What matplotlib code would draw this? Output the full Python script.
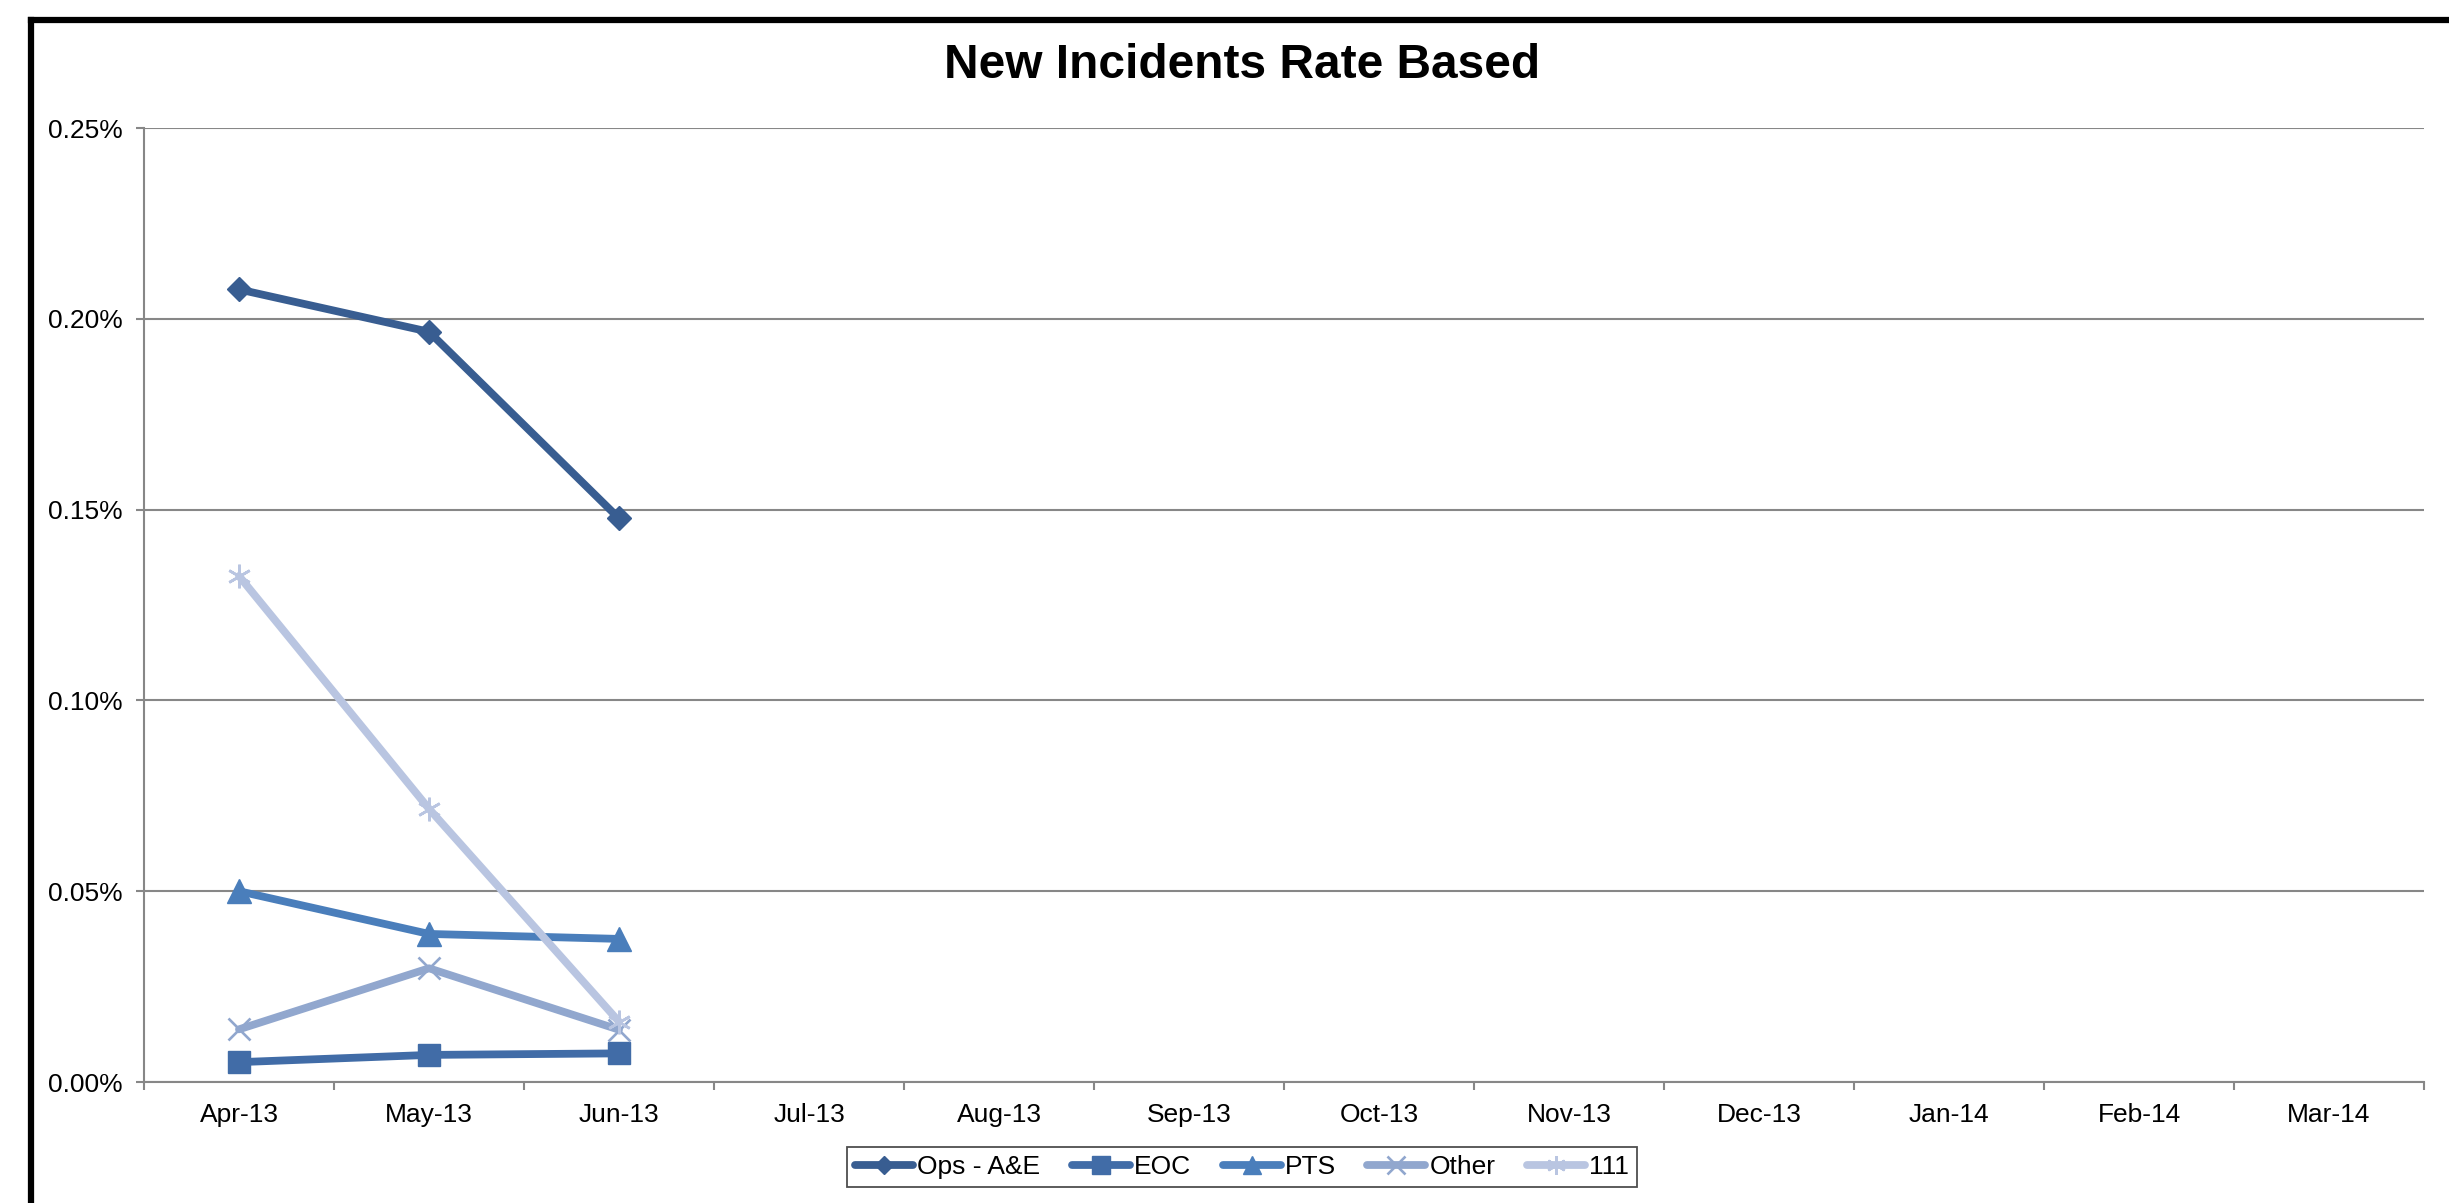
import matplotlib
matplotlib.use("Agg")
import matplotlib.pyplot as plt
from matplotlib.lines import Line2D
from matplotlib.ticker import FuncFormatter, FixedLocator

plt.rcParams['font.family'] = ['Liberation Sans', 'DejaVu Sans']

months = ["Apr-13", "May-13", "Jun-13", "Jul-13", "Aug-13", "Sep-13",
          "Oct-13", "Nov-13", "Dec-13", "Jan-14", "Feb-14", "Mar-14"]

# rates as fractions, only the first quarter is filled in
ops_ae = [0.002077, 0.001966, 0.001477]
eoc = [0.000052, 0.000071, 0.000075]
pts = [0.000500, 0.000388, 0.000375]
other = [0.000138, 0.000298, 0.000137]
nhs111 = [0.001326, 0.000716, 0.000158]

series = [
    ("Ops - A&E", ops_ae, "#385D91", "D", 12),
    ("EOC", eoc, "#416CA7", "s", 15.5),
    ("PTS", pts, "#4A7EBB", "^", 17),
    ("Other", other, "#91A7CE", "x", 16),
    ("111", nhs111, "#B9C5E1", (6, 2, 0), 17),
]

W, H = 2449, 1203
fig = plt.figure(figsize=(W / 100, H / 100), dpi=100)
ax = fig.add_axes([144 / W, 1 - 1082 / H, (2424 - 144) / W, (1082 - 128) / H])

grey = "#878787"
for name, vals, col, mk, ms in series:
    line_marker = mk in ("x", (6, 2, 0))
    ax.plot(range(len(vals)), vals, color=col, lw=5.6, marker=mk, ms=ms,
            markerfacecolor=col, markeredgecolor=col,
            mew=1.9 if line_marker else 1,
            solid_capstyle="round", solid_joinstyle="round",
            label=name, zorder=3)

ax.set_xlim(-0.5, len(months) - 0.5)
ax.set_ylim(0, 0.0025)
ax.set_yticks([i * 0.0005 for i in range(6)])
ax.yaxis.set_major_formatter(FuncFormatter(lambda v, p: "{:.2f}%".format(v * 100)))
ax.yaxis.grid(True, color=grey, lw=1.5)
ax.set_axisbelow(True)

# boundary ticks between months, labels centred on each month
ax.xaxis.set_major_locator(FixedLocator([i - 0.5 for i in range(len(months) + 1)]))
ax.xaxis.set_minor_locator(FixedLocator(range(len(months))))
ax.xaxis.set_major_formatter(FuncFormatter(lambda v, p: ""))
ax.xaxis.set_minor_formatter(FuncFormatter(lambda v, p: months[int(round(v))]))
ax.tick_params(axis="x", which="major", length=5.5, width=1.5, color=grey, direction="out")
ax.tick_params(axis="x", which="minor", length=0, pad=15, labelsize=19)
ax.tick_params(axis="y", length=5.5, width=1.5, color=grey, pad=10, labelsize=19)

for s in ("top", "right"):
    ax.spines[s].set_visible(False)
for s in ("left", "bottom"):
    ax.spines[s].set_color(grey)
    ax.spines[s].set_linewidth(1.5)

fig.text(1242 / W, 1 - 66 / H, "New Incidents Rate Based", ha="center", va="center",
         fontsize=34.5, fontweight="bold")

leg = fig.legend(loc="center", bbox_to_anchor=(1242 / W, 1 - 1167 / H), ncol=5,
                 fontsize=19, frameon=True, fancybox=False, handlelength=2.2,
                 handletextpad=0.15, columnspacing=1.2, borderpad=0.3,
                 markerscale=0.8)
leg.get_frame().set_edgecolor("#222222")
leg.get_frame().set_linewidth(1.3)

# outer chart border (top and left edges visible)
fig.add_artist(Line2D([31 / W, 31 / W], [0, 1 - 20 / H], color="black", lw=4.5,
                      transform=fig.transFigure, solid_capstyle="projecting"))
fig.add_artist(Line2D([31 / W, 1], [1 - 20 / H, 1 - 20 / H], color="black", lw=4.5,
                      transform=fig.transFigure, solid_capstyle="projecting"))

fig.savefig("out.png", dpi=100)
